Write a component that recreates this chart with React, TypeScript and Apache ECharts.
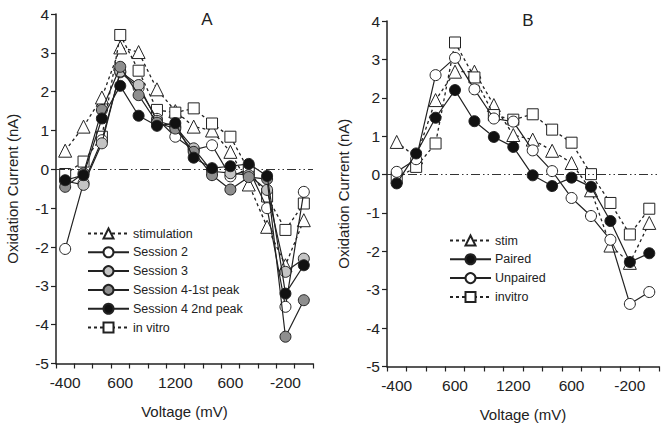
import React, { useEffect, useRef } from "react";
import * as echarts from "echarts";

// Tick labels for the 14 voltage steps of the triangular waveform
const voltageLabels = ["-400", "", "", "600", "", "", "1200", "", "", "600", "", "", "-200", ""];

// Panel A
const stimulationA = [0.48, 1.1, 1.85, 3.14, 3.02, 2.06, 1.5, 1.1, 1.0, 0.45, -0.39, -1.48, -2.47, -1.31];
const session2A = [-2.05, -0.35, 0.75, 2.5, 2.1, 1.3, 0.84, 0.5, 0.62, -0.18, 0.0, -1.0, -3.54, -0.58];
const session3A = [-0.3, -0.4, 0.67, 2.52, 2.17, 1.25, 1.1, 0.54, -0.05, -0.1, -0.15, -0.53, -2.64, -2.3];
const session41A = [-0.45, -0.1, 1.53, 2.64, 1.91, 1.2, 1.05, 0.45, -0.15, -0.52, -0.2, -0.25, -4.31, -3.37];
const session42A = [-0.28, -0.15, 1.31, 2.15, 1.38, 1.12, 1.19, 0.3, 0.03, 0.08, 0.14, -0.17, -3.2, -2.47];
const invitroA = [-0.12, 0.2, 0.84, 3.46, 2.54, 1.53, 1.46, 1.57, 1.18, 0.84, -0.02, -0.7, -1.56, -0.88];

// Panel B
const stimB = [0.85, 0.45, 1.94, 2.68, 2.68, 1.81, 1.03, 0.91, 0.62, 0.3, -0.41, -1.85, -2.3, -1.26];
const pairedB = [-0.23, 0.55, 1.48, 2.2, 1.39, 0.98, 0.72, -0.02, -0.3, -0.08, -0.32, -1.21, -2.28, -2.05];
const unpairedB = [0.07, 0.4, 2.59, 3.04, 2.22, 1.46, 1.38, 0.63, 0.09, -0.61, -1.08, -1.7, -3.37, -3.06];
const invitroB = [-0.1, 0.2, 0.81, 3.44, 2.53, 1.55, 1.43, 1.57, 1.17, 0.83, 0.01, -0.74, -1.56, -0.89];

const FONT = "Liberation Sans, Arial, sans-serif";
const INK = "#222";

type Spec = { name: string; data: number[]; symbol: string; fill: string; dotted: boolean; size: number };

const specsA: Spec[] = [
  { name: "stimulation", data: stimulationA, symbol: "triangle", fill: "#fff", dotted: true, size: 13 },
  { name: "in vitro", data: invitroA, symbol: "rect", fill: "#fff", dotted: true, size: 11 },
  { name: "Session 2", data: session2A, symbol: "circle", fill: "#fff", dotted: false, size: 11 },
  { name: "Session 3", data: session3A, symbol: "circle", fill: "#c4c4c4", dotted: false, size: 11 },
  { name: "Session 4-1st peak", data: session41A, symbol: "circle", fill: "#8e8e8e", dotted: false, size: 11 },
  { name: "Session 4 2nd peak", data: session42A, symbol: "circle", fill: "#111", dotted: false, size: 11 },
];
const legendA = ["stimulation", "Session 2", "Session 3", "Session 4-1st peak", "Session 4 2nd peak", "in vitro"];

const specsB: Spec[] = [
  { name: "stim", data: stimB, symbol: "triangle", fill: "#fff", dotted: true, size: 13 },
  { name: "invitro", data: invitroB, symbol: "rect", fill: "#fff", dotted: true, size: 11 },
  { name: "Unpaired", data: unpairedB, symbol: "circle", fill: "#fff", dotted: false, size: 11 },
  { name: "Paired", data: pairedB, symbol: "circle", fill: "#111", dotted: false, size: 11 },
];
const legendB = ["stim", "Paired", "Unpaired", "invitro"];

function makeSeries(specs: Spec[], idx: number) {
  return specs.map((s, k) => {
    const ser: any = {
      name: s.name,
      type: "line",
      xAxisIndex: idx,
      yAxisIndex: idx,
      data: s.data,
      symbol: s.symbol,
      symbolSize: s.size,
      showAllSymbol: true,
      itemStyle: { color: s.fill, borderColor: INK, borderWidth: 1 },
      lineStyle: { color: INK, width: s.dotted ? 1.3 : 1.2, type: s.dotted ? [3, 3] : "solid" },
      emphasis: { disabled: true },
      z: 3 + k,
    };
    if (k === 0) {
      ser.markLine = {
        silent: true,
        symbol: "none",
        label: { show: false },
        lineStyle: { color: "#333", width: 1, type: [9, 3, 1.5, 3, 1.5, 3] },
        data: [{ yAxis: 0 }],
      };
    }
    return ser;
  });
}

function xAxis(idx: number) {
  return {
    type: "category",
    gridIndex: idx,
    data: voltageLabels.map((_, i) => String(i)),
    boundaryGap: true,
    position: "bottom",
    axisLine: { onZero: false, lineStyle: { color: INK, width: 1.5 } },
    axisTick: { show: true, length: 5, interval: 0, lineStyle: { color: INK, width: 1.2 } },
    axisLabel: {
      interval: 0,
      margin: 11,
      color: INK,
      fontSize: 15.5,
      fontFamily: FONT,
      formatter: (_v: string, i: number) => voltageLabels[i],
    },
    name: "Voltage (mV)",
    nameLocation: "middle",
    nameGap: 40,
    nameTextStyle: { color: INK, fontSize: 15, fontFamily: FONT },
    splitLine: { show: false },
  };
}

function yAxis(idx: number) {
  return {
    type: "value",
    gridIndex: idx,
    min: -5,
    max: 4,
    interval: 1,
    axisLine: { show: true, lineStyle: { color: INK, width: 1.5 } },
    axisTick: { show: true, length: 5, lineStyle: { color: INK, width: 1.2 } },
    axisLabel: { margin: 7, color: INK, fontSize: 15.5, fontFamily: FONT },
    splitLine: { show: false },
    name: "Oxidation Current (nA)",
    nameLocation: "middle",
    nameGap: 36,
    nameTextStyle: { color: INK, fontSize: 15, fontFamily: FONT },
  };
}

function legend(data: string[], left: number, top: number) {
  return {
    data,
    orient: "vertical",
    left,
    top,
    itemWidth: 41,
    itemHeight: 12.5,
    itemGap: 5.8,
    padding: 0,
    selectedMode: false,
    textStyle: { color: INK, fontSize: 12.5, fontFamily: FONT, padding: [0, 0, 0, -1] },
  };
}

export default function App() {
  const ref = useRef<HTMLDivElement>(null);
  useEffect(() => {
    if (!ref.current) return;
    const chart = echarts.init(ref.current, undefined, { renderer: "svg" });
    chart.setOption({
      animation: false,
      backgroundColor: "#fff",
      title: [
        { text: "A", left: 202, top: 6, textAlign: "center", textStyle: { color: INK, fontSize: 17, fontWeight: "normal", fontFamily: FONT } },
        { text: "B", left: 523, top: 7, textAlign: "center", textStyle: { color: INK, fontSize: 17, fontWeight: "normal", fontFamily: FONT } },
      ],
      grid: [
        { left: 56, top: 14, width: 257, height: 349.5, containLabel: false },
        { left: 387, top: 21, width: 272, height: 345.5, containLabel: false },
      ],
      xAxis: [xAxis(0), xAxis(1)],
      yAxis: [yAxis(0), yAxis(1)],
      legend: [legend(legendA, 87, 227), legend(legendB, 449, 234)],
      series: [...makeSeries(specsA, 0), ...makeSeries(specsB, 1)],
    });
    return () => chart.dispose();
  }, []);
  return <div ref={ref} style={{ width: 665, height: 432, position: "absolute", left: 0, top: 0 }} />;
}
